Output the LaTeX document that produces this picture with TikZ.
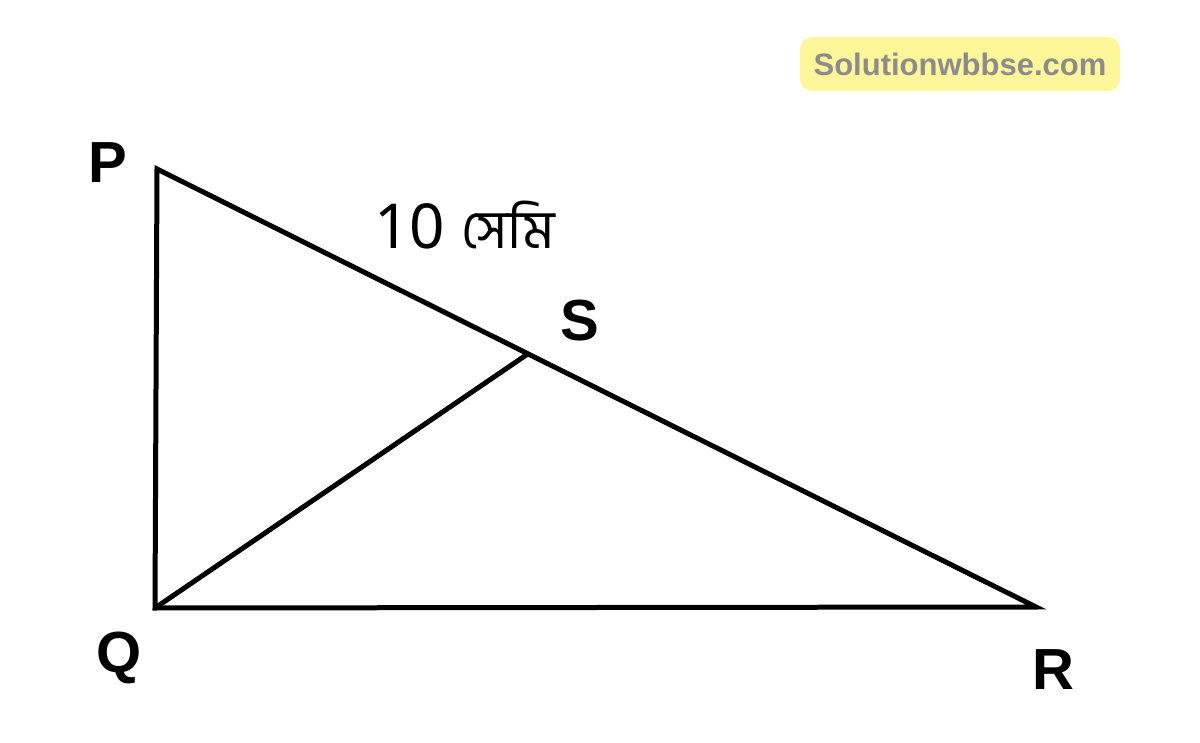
\documentclass[tikz,border=0pt]{standalone}
\usepackage{fontspec}
\usetikzlibrary{calc}
\setmainfont{Liberation Sans}
\newfontfamily\bengfont[Script=Bengali]{Hind Siliguri}
\newfontfamily\digitfont{Noto Sans}
\definecolor{markyellow}{RGB}{255,245,153}
\definecolor{markgray}{RGB}{140,140,140}
\tikzset{
  side/.style={line width=5pt, line join=miter},
  vertexlabel/.style={font=\bfseries\fontsize{58}{58}\selectfont, inner sep=0pt, anchor=base},
}

\begin{document}
\begin{tikzpicture}[x=1pt,y=-1pt]
  \useasboundingbox (0,0) rectangle (1200,743);
  % corners of the triangle
  \coordinate (P) at (157,169);
  \coordinate (Q) at (155,608);
  \coordinate (R) at (1036,607);
  \coordinate (S) at ($(P)!0.422!(R)$);
  \draw[side] (P) -- (Q) -- (R) -- cycle;
  \draw[side] (Q) -- (S);
  % letters
  \node[vertexlabel] (lP) at (108,183) {P};
  \node[vertexlabel] (lQ) at (119,672) {Q};
  \node[vertexlabel] (lR) at (1053,689) {R};
  \node[vertexlabel] (lS) at (580,341) {S};
  \node[font=\fontsize{62}{62}\selectfont, inner sep=0pt, anchor=base west] (len) at (374,249)
    {\digitfont 10\hspace{16pt}{\bengfont\fontsize{54}{54}\selectfont সেমি}};
  % watermark
  \node[fill=markyellow, rounded corners=12pt, minimum width=320pt, minimum height=54pt,
        text=markgray, font=\bfseries\fontsize{31}{31}\selectfont] (mark) at (960,64) {Solutionwbbse.com};
\end{tikzpicture}
\end{document}
